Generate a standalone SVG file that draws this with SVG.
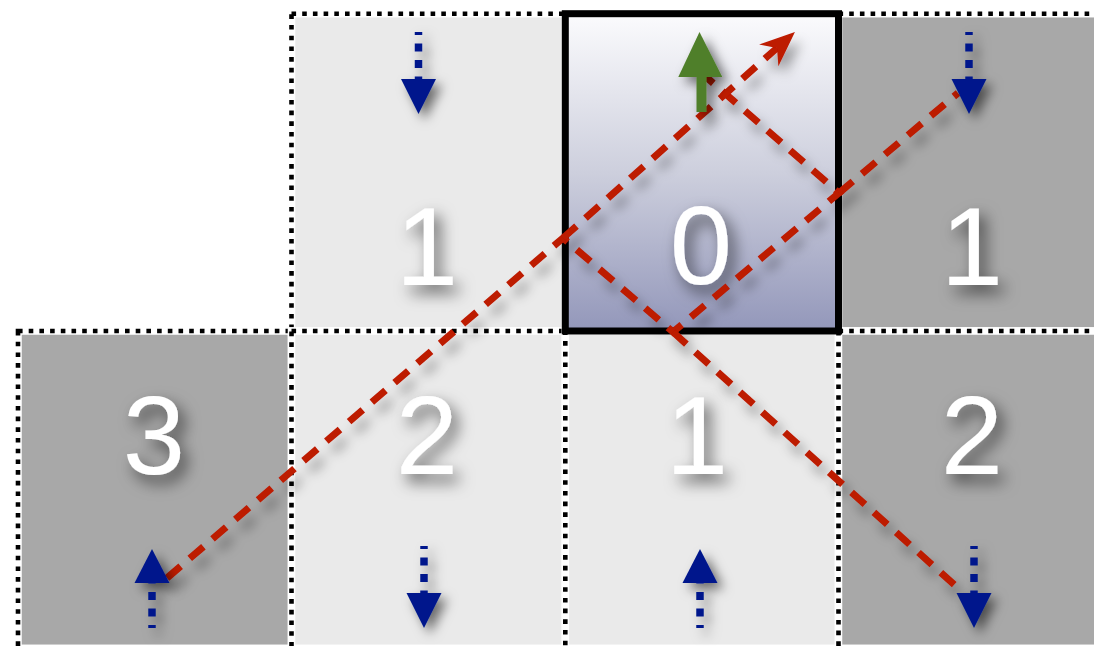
<svg xmlns="http://www.w3.org/2000/svg" width="1094" height="646" viewBox="0 0 1094 646">
<defs>
<linearGradient id="gCenter" x1="0" y1="0" x2="0" y2="1">
<stop offset="0" stop-color="#FBFBFD"/>
<stop offset="0.5" stop-color="#CDCFDD"/>
<stop offset="1" stop-color="#9397BA"/>
</linearGradient>
<filter id="shText" x="-80%" y="-50%" width="260%" height="200%">
<feDropShadow dx="6" dy="8" stdDeviation="8" flood-color="#000" flood-opacity="0.6"/>
</filter>
<filter id="shLine" x="-10%" y="-10%" width="120%" height="120%" filterUnits="objectBoundingBox">
<feDropShadow dx="6" dy="10" stdDeviation="6" flood-color="#000" flood-opacity="0.35"/>
</filter>
<filter id="shArrow" x="-100%" y="-50%" width="300%" height="200%">
<feDropShadow dx="6" dy="6" stdDeviation="6" flood-color="#000" flood-opacity="0.55"/>
</filter>
<marker id="redHead" markerUnits="userSpaceOnUse" viewBox="-15 -18 42 36" markerWidth="42" markerHeight="36" refX="0" refY="0" orient="auto" overflow="visible">
<polygon points="24,0 -11,-14.5 0,0 -11,14.5" fill="#BD1A00"/>
</marker>
<g id="arrowDown">
<path d="M0,-82 L0,-34" class="shaft"/>
<polygon points="-17.5,-35 17.5,-35 0,0" class="head"/>
</g>
<g id="arrowUp">
<path d="M0,79 L0,33" class="shaft"/>
<polygon points="-17.5,34 17.5,34 0,0" class="head"/>
</g>
</defs>
<style>
.light{fill:#EAEAEA}
.dark{fill:#A8A8A8}
.edgeW{fill:none;stroke:#FFFFFF;stroke-width:7.5}
.edgeK{fill:none;stroke:#000000;stroke-width:4.6;stroke-dasharray:4.6 6.1}
.num{font-family:"Liberation Sans",Arial,sans-serif;font-size:112px;fill:#FFFFFF;text-anchor:middle;filter:url(#shText)}
.ray{fill:none;stroke:#BD1A00;stroke-width:7;stroke-dasharray:18 12;stroke-linejoin:miter}
.shaft{fill:none;stroke:#00198C;stroke-width:7.5;stroke-dasharray:8 8.5;stroke-dashoffset:5}
.head{fill:#00198C}
.ind{filter:url(#shArrow)}
</style>
<rect x="0" y="0" width="1094" height="646" fill="#FFFFFF"/>

<g id="cells">
<g id="cell-top-left">
<rect x="291.5" y="13.7" width="273.8" height="317.3" class="light"/>
<rect x="291.5" y="13.7" width="273.8" height="317.3" class="edgeW"/>
<rect x="291.5" y="13.7" width="273.8" height="317.3" class="edgeK"/>
<text x="427" y="285" class="num">1</text>
</g>
<g id="cell-top-right">
<rect x="838.5" y="13.7" width="273.5" height="317.3" class="dark"/>
<rect x="838.5" y="13.7" width="273.5" height="317.3" class="edgeW"/>
<rect x="838.5" y="13.7" width="273.5" height="317.3" class="edgeK"/>
<text x="972" y="285" class="num">1</text>
</g>
<g id="cell-bottom-0">
<rect x="18" y="331" width="273.5" height="317.3" class="dark"/>
<rect x="18" y="331" width="273.5" height="317.3" class="edgeW"/>
<rect x="18" y="331" width="273.5" height="317.3" class="edgeK"/>
<text x="154" y="474" class="num">3</text>
</g>
<g id="cell-bottom-1">
<rect x="291.5" y="331" width="273.8" height="317.3" class="light"/>
<rect x="291.5" y="331" width="273.8" height="317.3" class="edgeW"/>
<rect x="291.5" y="331" width="273.8" height="317.3" class="edgeK"/>
<text x="427" y="474" class="num">2</text>
</g>
<g id="cell-bottom-2">
<rect x="565.3" y="331" width="273.2" height="317.3" class="light"/>
<rect x="565.3" y="331" width="273.2" height="317.3" class="edgeW"/>
<rect x="565.3" y="331" width="273.2" height="317.3" class="edgeK"/>
<text x="697" y="474" class="num">1</text>
</g>
<g id="cell-bottom-3">
<rect x="838.5" y="331" width="273.5" height="317.3" class="dark"/>
<rect x="838.5" y="331" width="273.5" height="317.3" class="edgeW"/>
<rect x="838.5" y="331" width="273.5" height="317.3" class="edgeK"/>
<text x="972" y="474" class="num">2</text>
</g>
<g id="cell-center">
<rect x="565.3" y="13.7" width="273.2" height="317.3" fill="url(#gCenter)" stroke="#000000" stroke-width="7"/>
<text x="701" y="284" class="num">0</text>
</g>
</g>

<g id="connectors" filter="url(#shLine)">
<path class="ray" d="M167,578 L563,238 L673,332 L839,193 L705,76"/>
<path class="ray" d="M563,238 L777,48" marker-end="url(#redHead)"/>
<path class="ray" d="M839,193 L958,93"/>
<path class="ray" d="M673,332 L958,588"/>
</g>

<g id="indicators">
<use href="#arrowDown" x="418.5" y="114" class="ind"/>
<use href="#arrowDown" x="969" y="114" class="ind"/>
<use href="#arrowUp" x="152" y="549" class="ind"/>
<use href="#arrowDown" x="424" y="628" class="ind"/>
<use href="#arrowUp" x="700" y="549" class="ind"/>
<use href="#arrowDown" x="974" y="628" class="ind"/>
<g id="green-arrow" class="ind">
<rect x="696.5" y="76" width="10" height="36" fill="#4F7F2B"/>
<polygon points="678.3,77 722.3,77 699.5,32" fill="#4F7F2B"/>
</g>
</g>
</svg>
